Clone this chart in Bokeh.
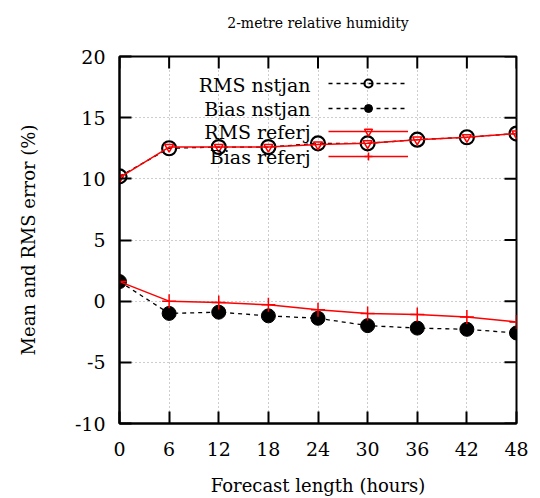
import math
from bokeh.plotting import figure
from bokeh.models import (FixedTicker, Legend, LegendItem, Range1d, PrintfTickFormatter,
                          Label, LinearAxis)
from bokeh.embed import file_html
from bokeh.resources import INLINE

hours = [0, 6, 12, 18, 24, 30, 36, 42, 48]
rms_nstjan = [10.2, 12.5, 12.6, 12.6, 12.9, 12.9, 13.2, 13.4, 13.7]
bias_nstjan = [1.6, -1.0, -0.9, -1.2, -1.4, -2.0, -2.2, -2.3, -2.6]
rms_referj = [10.1, 12.6, 12.6, 12.6, 12.8, 12.9, 13.2, 13.4, 13.7]
bias_referj = [1.6, 0.0, -0.1, -0.3, -0.7, -1.0, -1.1, -1.3, -1.7]
x_ticks = [0, 6, 12, 18, 24, 30, 36, 42, 48]
y_ticks = [-10, -5, 0, 5, 10, 15, 20]
legend_labels = ["RMS nstjan", "Bias nstjan", "RMS referj", "Bias referj"]
title_text = "2-metre relative humidity"

FONT = "DejaVu Serif"
X_MIN, X_MAX = 0, 48
Y_MIN, Y_MAX = -10, 20

p = figure(width=540, height=498, output_backend="svg", toolbar_location=None,
           x_range=Range1d(X_MIN, X_MAX), y_range=Range1d(Y_MIN, Y_MAX),
           min_border_left=119, min_border_right=24, min_border_top=56, min_border_bottom=75,
           x_axis_label="Forecast length (hours)", y_axis_label="Mean and RMS error (%)")

p.outline_line_color = "black"
p.outline_line_width = 2

p.xaxis.ticker = FixedTicker(ticks=x_ticks)
p.yaxis.ticker = FixedTicker(ticks=y_ticks)
p.xaxis.formatter = PrintfTickFormatter(format="%d")
p.yaxis.formatter = PrintfTickFormatter(format="%d")

for ax in [p.xaxis[0], p.yaxis[0]]:
    ax.major_tick_in = 12
    ax.major_tick_out = 0
    ax.minor_tick_line_color = None
    ax.major_tick_line_width = 2
    ax.axis_line_width = 2
    ax.major_label_text_font = FONT
    ax.major_label_text_font_size = "19px"
    ax.major_label_text_color = "black"
    ax.axis_label_text_font = FONT
    ax.axis_label_text_font_size = "18px"
    ax.axis_label_text_font_style = "normal"
    ax.axis_label_text_color = "black"

p.xaxis.major_label_standoff = 18
p.yaxis.major_label_standoff = 14
p.xaxis.axis_label_standoff = 16
p.yaxis.axis_label_standoff = 33

# title: carried by a tick-less axis above the frame
top_axis = LinearAxis(ticker=FixedTicker(ticks=[]), axis_label=title_text,
                      axis_label_text_font=FONT, axis_label_text_font_size="14px",
                      axis_label_text_font_style="normal", axis_label_text_color="black",
                      axis_label_standoff=26, major_tick_in=0, major_tick_out=0,
                      minor_tick_line_color=None, axis_line_color=None)
p.add_layout(top_axis, "above")

for g in [p.xgrid[0], p.ygrid[0]]:
    g.grid_line_color = "#9a9a9a"
    g.grid_line_dash = "1 3"
    g.grid_line_width = 1
p.xgrid.ticker = FixedTicker(ticks=x_ticks)
p.ygrid.ticker = FixedTicker(ticks=y_ticks)

# mirror ticks on top and right (half of each dash is clipped by the frame)
p.scatter(x_ticks, [Y_MAX] * len(x_ticks), marker="dash", size=24, angle=math.pi / 2,
          line_color="black", line_width=2)
p.scatter([X_MAX] * len(y_ticks), y_ticks, marker="dash", size=24,
          line_color="black", line_width=2)

# nstjan (black)
l1 = p.line(hours, rms_nstjan, line_color="black", line_dash="4 4", line_width=1.3)
m1 = p.scatter(hours, rms_nstjan, marker="circle", size=14, fill_color=None,
               line_color="black", line_width=2.2)
l2 = p.line(hours, bias_nstjan, line_color="black", line_dash="4 4", line_width=1.3)
m2 = p.scatter(hours, bias_nstjan, marker="circle", size=14, fill_color="black",
               line_color="black", line_width=1)

# referj (red)
l3 = p.line(hours, rms_referj, line_color="red", line_width=1.5)
m3 = p.scatter(hours, rms_referj, marker="inverted_triangle", size=9, fill_color=None,
               line_color="red", line_width=1.5)
l4 = p.line(hours, bias_referj, line_color="red", line_width=1.5)
m4 = p.scatter(hours, bias_referj, marker="cross", size=14, line_color="red", line_width=1.5)

# legend: one glyph-only legend per row; the texts are placed to their left
row_bottoms = [330, 305, 282, 257]
for rends, yb in zip([[l1, m1], [l2, m2], [l3, m3], [l4, m4]], row_bottoms):
    lg = Legend(items=[LegendItem(label="", renderers=rends)], location=(209, yb),
                glyph_width=80, glyph_height=20, label_height=20, label_width=0,
                label_standoff=0, spacing=0, padding=0, margin=0,
                background_fill_alpha=0, border_line_color=None)
    p.add_layout(lg)

row_y = [17.7, 15.7, 13.8, 11.8]
for lab, yy in zip(legend_labels, row_y):
    p.add_layout(Label(x=23.1, y=yy, text=lab, text_align="right", text_baseline="middle",
                       text_font=FONT, text_font_size="19px", text_color="black"))

open("out.html", "w").write(file_html(p, INLINE))
